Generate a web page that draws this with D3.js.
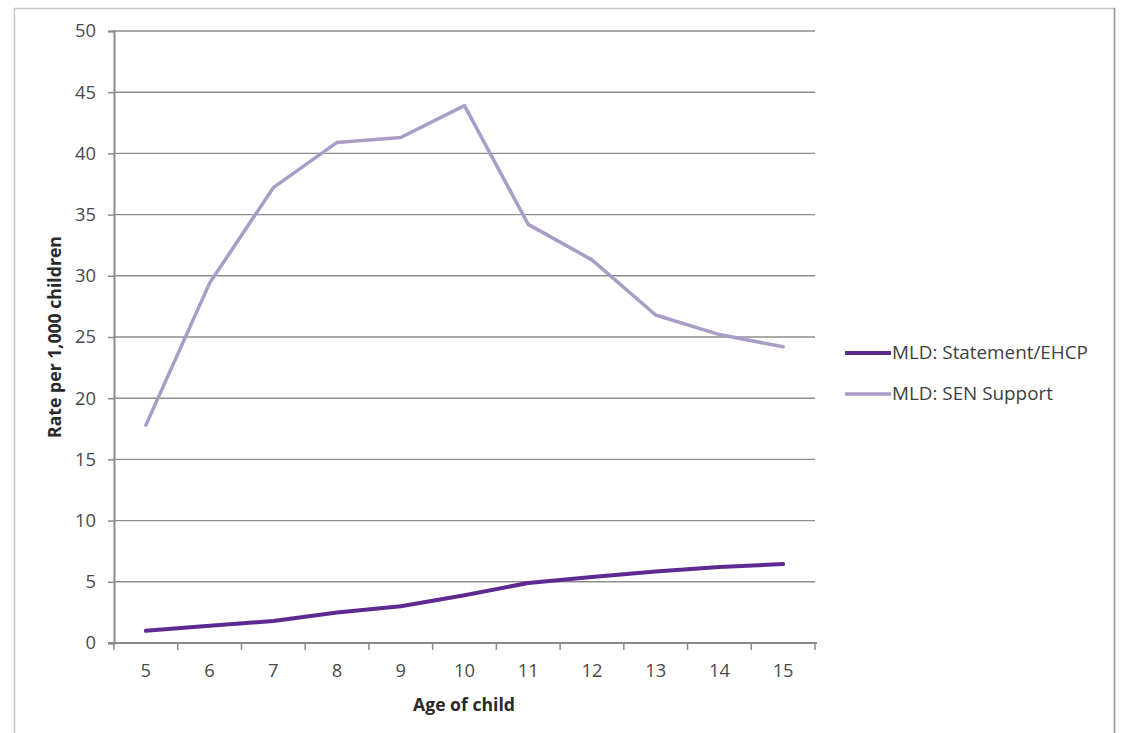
<!DOCTYPE html>
<html>
<head>
<meta charset="utf-8">
<script src="https://cdn.jsdelivr.net/npm/d3@7"></script>
<style>
  html, body { margin: 0; padding: 0; background: #fff; }
  svg { display: block; }
  text { font-family: "Open Sans", Lato, "Noto Sans", sans-serif; }
</style>
</head>
<body>
<svg id="chart" width="1122" height="733"></svg>
<script>
// Age of child (years)
const ages = [5, 6, 7, 8, 9, 10, 11, 12, 13, 14, 15];
// Rate per 1,000 children, MLD with a Statement or EHCP
const statementEhcp = [1.0, 1.4, 1.8, 2.5, 3.0, 3.9, 4.9, 5.4, 5.85, 6.2, 6.45];
// Rate per 1,000 children, MLD on SEN Support
const senSupport = [17.8, 29.4, 37.2, 40.9, 41.3, 43.9, 34.2, 31.3, 26.8, 25.2, 24.2];
// Value axis ticks
const yTicks = [0, 5, 10, 15, 20, 25, 30, 35, 40, 45, 50];

const seriesNames = ["MLD: Statement/EHCP", "MLD: SEN Support"];
const seriesColors = ["#5e2a91", "#a99dc8"];
const seriesWidths = [4, 3.5];
const series = [statementEhcp, senSupport];

const svg = d3.select("#chart");

// size a font so that a sample string spans the given width
function fittedSize(sample, width, weight) {
  const t = svg.append("text").attr("font-size", 20).attr("font-weight", weight || "normal").text(sample);
  const w = t.node().getComputedTextLength();
  t.remove();
  return 20 * width / w;
}
const tickSize = fittedSize("10", 21);
const legendSize = fittedSize(seriesNames[0], 196);
const xTitleSize = fittedSize("Age of child", 102, "bold");
const yTitleSize = fittedSize("Rate per 1,000 children", 202, "bold");

// outer chart frame
svg.append("path")
  .attr("d", "M14.5,733 V8.5 H1114.5 V733")
  .attr("fill", "none").attr("stroke", "#c8c8c8").attr("stroke-width", 1.5);
svg.append("line")
  .attr("x1", 1114.5).attr("x2", 1114.5).attr("y1", 8).attr("y2", 733)
  .attr("stroke", "#9a9a9a").attr("stroke-width", 1.5);

const plot = { left: 114, right: 815, top: 31, bottom: 643 };

const x = d3.scaleBand().domain(ages).range([plot.left, plot.right]);
const y = d3.scaleLinear().domain([0, 50]).range([plot.bottom, plot.top]);

// horizontal gridlines
svg.append("g")
  .selectAll("line")
  .data(yTicks.filter(d => d > 0))
  .join("line")
  .attr("x1", plot.left).attr("x2", plot.right)
  .attr("y1", d => y(d)).attr("y2", d => y(d))
  .attr("stroke", "#8e8e8e").attr("stroke-width", 1.4);

// value axis
const yAxis = svg.append("g")
  .attr("transform", `translate(${plot.left},0)`)
  .call(d3.axisLeft(y).tickValues(yTicks).tickSize(6).tickPadding(12).tickFormat(d3.format("d")));
yAxis.select(".domain").attr("stroke", "#8a8a8a").attr("stroke-width", 2);
yAxis.selectAll(".tick line").attr("stroke", "#8a8a8a").attr("stroke-width", 1.5);
yAxis.selectAll(".tick text")
  .attr("font-family", null)
  .attr("fill", "#4a4a4a").attr("font-size", tickSize);
yAxis.attr("font-family", null);

// category axis with ticks at band boundaries
const xAxisG = svg.append("g").attr("transform", `translate(0,${plot.bottom})`);
xAxisG.append("line")
  .attr("x1", plot.left - 6).attr("x2", plot.right + 2)
  .attr("stroke", "#8a8a8a").attr("stroke-width", 2);
const boundaries = ages.map(a => x(a)).concat([x(ages[ages.length - 1]) + x.bandwidth()]);
xAxisG.selectAll("line.tk")
  .data(boundaries)
  .join("line").attr("class", "tk")
  .attr("x1", d => d).attr("x2", d => d).attr("y1", 0).attr("y2", 7)
  .attr("stroke", "#8a8a8a").attr("stroke-width", 1.5);
xAxisG.selectAll("text")
  .data(ages)
  .join("text")
  .attr("x", d => x(d) + x.bandwidth() / 2)
  .attr("y", 34)
  .attr("text-anchor", "middle")
  .attr("fill", "#4a4a4a").attr("font-size", tickSize)
  .text(d => d);

// axis titles
svg.append("text")
  .attr("x", 464).attr("y", 711)
  .attr("text-anchor", "middle")
  .attr("font-weight", "bold").attr("font-size", xTitleSize).attr("fill", "#2a2a2a")
  .text("Age of child");
svg.append("text")
  .attr("transform", "translate(61,337) rotate(-90)")
  .attr("text-anchor", "middle")
  .attr("font-weight", "bold").attr("font-size", yTitleSize).attr("fill", "#2a2a2a")
  .text("Rate per 1,000 children");

// series lines
const line = d3.line()
  .x((d, i) => x(ages[i]) + x.bandwidth() / 2)
  .y(d => y(d));

svg.append("g")
  .selectAll("path")
  .data(series.map((s, i) => ({ values: s, i })).reverse())
  .join("path")
  .attr("d", d => line(d.values))
  .attr("fill", "none")
  .attr("stroke", d => seriesColors[d.i])
  .attr("stroke-width", d => seriesWidths[d.i])
  .attr("stroke-linejoin", "round")
  .attr("stroke-linecap", "round");

// legend
const legend = svg.append("g").attr("transform", "translate(845,353)");
const items = legend.selectAll("g")
  .data(seriesNames)
  .join("g")
  .attr("transform", (d, i) => `translate(0,${i * 41})`);
items.append("line")
  .attr("x1", 0).attr("x2", 46).attr("y1", 0).attr("y2", 0)
  .attr("stroke", (d, i) => seriesColors[i])
  .attr("stroke-width", (d, i) => seriesWidths[i]);
items.append("text")
  .attr("x", 47).attr("y", 6)
  .attr("fill", "#404040").attr("font-size", legendSize)
  .text(d => d);
</script>
</body>
</html>
